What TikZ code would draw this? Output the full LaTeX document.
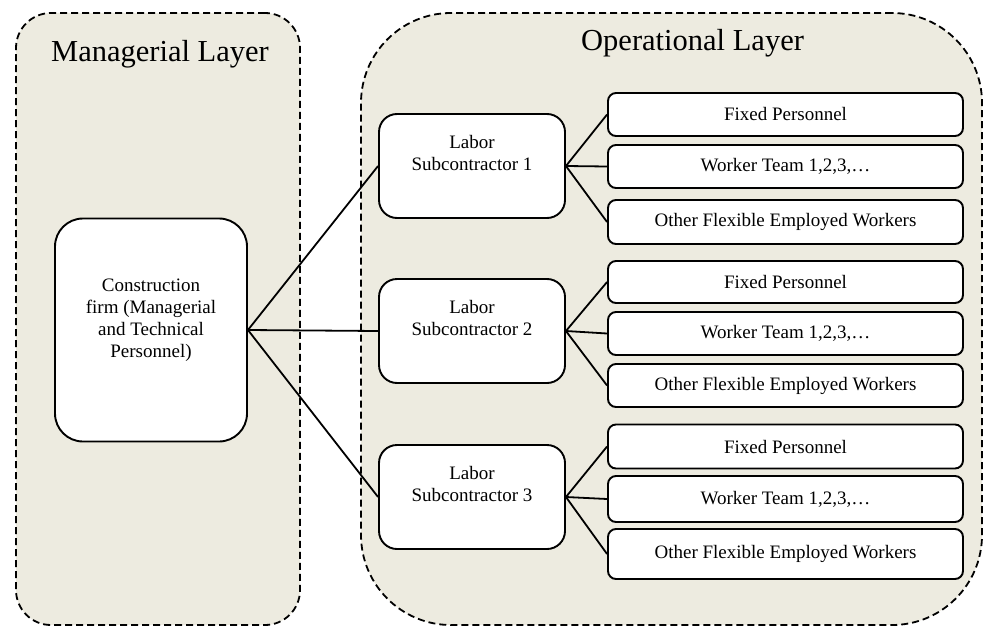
\documentclass[tikz,border=0pt]{standalone}
\usepackage{fontspec}
\setmainfont{Liberation Serif}
\definecolor{layerfill}{RGB}{237,235,224}
\begin{document}
\begin{tikzpicture}[x=1pt,y=-1pt,
  layer/.style={draw, dash pattern=on 7pt off 4pt, line width=1.8pt,
    fill=layerfill, rounded corners=#1, inner sep=0pt},
  unit/.style={draw, line width=1.9pt, fill=white, rounded corners=#1,
    inner sep=0pt},
  member/.style={unit=8pt, minimum width=355pt,
    font=\fontsize{19}{22}\selectfont},
  subbox/.style={unit=18pt, minimum width=186pt, minimum height=104pt},
  boxtext/.style={align=center, inner sep=0pt, anchor=north,
    font=\fontsize{19}{22}\selectfont},
  title/.style={inner sep=0pt, font=\fontsize{30.5}{36}\selectfont},
  link/.style={draw, line width=1.8pt}]
\useasboundingbox (0,0) rectangle (984,626);

% the two layers
\node[layer=35pt, minimum width=284pt, minimum height=612pt] (mgr) at (158,319) {};
\node[layer=90pt, minimum width=621pt, minimum height=612pt] (ops) at (671.5,319) {};
\node[title, anchor=base] (mgrtitle) at (160,62) {Managerial Layer};
\node[title, anchor=base west] (opstitle) at (581,51) {Operational Layer};

% construction firm
\node[unit=28pt, minimum width=192pt, minimum height=223pt] (firm) at (151,330) {};
\node[boxtext] (firmtext) at (151,279) {Construction\\firm (Managerial\\and Technical\\Personnel)};

% labor subcontractors
\node[subbox] (s1) at (472,166) {};
\node[boxtext] (s1text) at (472,135) {Labor\\Subcontractor 1};
\node[subbox] (s2) at (472,331) {};
\node[boxtext] (s2text) at (472,300) {Labor\\Subcontractor 2};
\node[subbox] (s3) at (472,497) {};
\node[boxtext] (s3text) at (472,466) {Labor\\Subcontractor 3};

% staff of subcontractor 1
\node[member, minimum height=43pt] (f1) at (785.5,114.5) {Fixed Personnel};
\node[member, minimum height=43pt] (w1) at (785.5,166.5) {Worker Team 1,2,3,\dots};
\node[member, minimum height=44pt] (o1) at (785.5,222) {Other Flexible Employed Workers};
% staff of subcontractor 2
\node[member, minimum height=42pt] (f2) at (785.5,282) {Fixed Personnel};
\node[member, minimum height=43pt] (w2) at (785.5,333.5) {Worker Team 1,2,3,\dots};
\node[member, minimum height=43pt] (o2) at (785.5,385.5) {Other Flexible Employed Workers};
% staff of subcontractor 3
\node[member, minimum height=44pt] (f3) at (785.5,446.5) {Fixed Personnel};
\node[member, minimum height=46pt] (w3) at (785.5,499) {Worker Team 1,2,3,\dots};
\node[member, minimum height=50pt] (o3) at (785.5,554) {Other Flexible Employed Workers};

% connectors
\foreach \s in {s1,s2,s3} \draw[link] (firm.east) -- (\s.west);
\foreach \s/\n in {s1/1,s2/2,s3/3} {
  \draw[link] (\s.east) -- (f\n.west);
  \draw[link] (\s.east) -- (w\n.west);
  \draw[link] (\s.east) -- (o\n.west);
}
\end{tikzpicture}
\end{document}
